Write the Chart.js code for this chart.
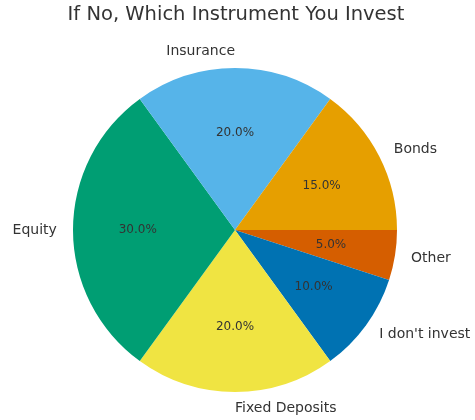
<!DOCTYPE html>
<html>
<head>
<meta charset="utf-8">
<script src="https://cdn.jsdelivr.net/npm/chart.js@4"></script>
<style>
  html, body { margin: 0; padding: 0; background: #fff; }
</style>
</head>
<body>
<canvas id="chart" width="475" height="420"></canvas>
<script>
// data, in the order matplotlib draws it (counter-clockwise from 3 o'clock)
var categories = ['Bonds', 'Insurance', 'Equity', 'Fixed Deposits', "I don't invest", 'Other'];
var shares = [15, 20, 30, 20, 10, 5];
var colors = ['#E69F00', '#56B4E9', '#009E73', '#F0E442', '#0072B2', '#D55E00'];
var title = 'If No, Which Instrument You Invest';

// chart.js goes clockwise, so flip the order
var labels = categories.slice().reverse();
var values = shares.slice().reverse();
var bg = colors.slice().reverse();
var total = values.reduce(function(a, b) { return a + b; }, 0);

var textPlugin = {
    id: 'pieText',
    afterDraw: function(chart) {
        var ctx = chart.ctx;
        var arcs = chart.getDatasetMeta(0).data;
        ctx.save();

        // title
        ctx.fillStyle = '#333';
        ctx.font = '19.5px "DejaVu Sans"';
        ctx.textAlign = 'center';
        ctx.textBaseline = 'middle';
        ctx.fillText(title, 236, 15);

        arcs.forEach(function(arc, i) {
            var mid = (arc.startAngle + arc.endAngle) / 2;
            var r = arc.outerRadius;
            var c = Math.cos(mid), s = Math.sin(mid);

            // percentage inside
            ctx.font = '12px "DejaVu Sans"';
            ctx.textAlign = 'center';
            ctx.fillStyle = '#333';
            var pct = (values[i] / total * 100).toFixed(1) + '%';
            ctx.fillText(pct, arc.x + c * r * 0.6, arc.y + s * r * 0.6);

            // category label outside
            ctx.font = '14px "DejaVu Sans"';
            var align;
            if (c > 1e-6) align = 'left';
            else if (c < -1e-6) align = 'right';
            else align = s < 0 ? 'right' : 'left';
            ctx.textAlign = align;
            ctx.fillText(labels[i], arc.x + c * r * 1.1, arc.y + s * r * 1.1);
        });
        ctx.restore();
    }
};

var ctx = document.getElementById('chart').getContext('2d');
var chart = new Chart(ctx, {
    type: 'pie',
    data: {
        labels: labels,
        datasets: [{
            data: values,
            backgroundColor: bg,
            borderWidth: 0
        }]
    },
    options: {
        responsive: false,
        animation: false,
        rotation: 90,
        layout: { padding: { left: 73, right: 78, top: 68, bottom: 28 } },
        plugins: {
            legend: { display: false },
            tooltip: { enabled: false }
        }
    },
    plugins: [textPlugin]
});
</script>
</body>
</html>
